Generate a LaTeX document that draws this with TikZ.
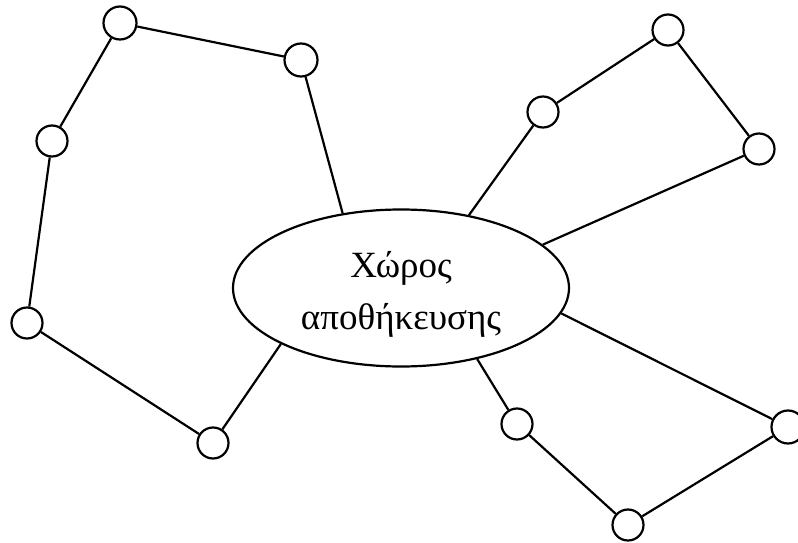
\documentclass[tikz,border=0pt]{standalone}
\usepackage{fontspec}
\setmainfont{Liberation Serif}
\usetikzlibrary{shapes.geometric}

\tikzset{
  station/.style={draw,circle,line width=2.2pt,minimum width=31pt,minimum height=29pt,inner sep=0pt},
  storage/.style={draw,ellipse,line width=2.2pt,minimum width=336pt,minimum height=157pt,inner sep=0pt},
  storagetext/.style={align=center,inner sep=0pt,font=\fontsize{37}{52}\selectfont},
  link/.style={line width=2.2pt}
}

\begin{document}
\begin{tikzpicture}[x=1pt,y=-1pt]
  \useasboundingbox (0,0) rectangle (798,543);

  \node[storage] (store) at (401,288) {};
  \node[storagetext] (storelabel) at (401,294) {Χώρος\\αποθήκευσης};

  \node[station,minimum width=33pt] (a1) at (301,60) {};
  \node[station,minimum width=33pt] (a2) at (120,23) {};
  \node[station] (a3) at (52,141) {};
  \node[station] (a4) at (27,323) {};
  \node[station] (a5) at (213,443) {};

  \node[station] (b1) at (543,112) {};
  \node[station] (b2) at (668,30) {};
  \node[station] (b3) at (759,149) {};

  \node[station] (c1) at (517,424) {};
  \node[station] (c2) at (628,525) {};
  \node[station,minimum width=33pt] (c3) at (788,427) {};

  \draw[link] (store.128) -- (a1) -- (a2) -- (a3) -- (a4) -- (a5) -- (store.205);
  \draw[link] (store.47) -- (b1) -- (b2) -- (b3) -- (store.17);
  \draw[link] (store.-43) -- (c1) -- (c2) -- (c3) -- (store.-9);
\end{tikzpicture}
\end{document}
